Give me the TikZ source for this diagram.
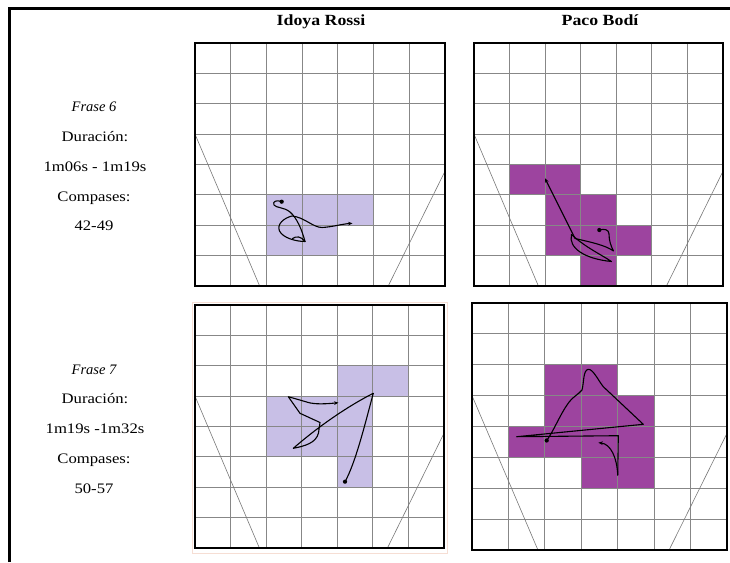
\documentclass[tikz,border=0pt]{standalone}
\usepackage{fontspec}
\setmainfont{Liberation Serif}[FakeStretch=1.15]
\newfontfamily\plainserif{Liberation Serif}
\usetikzlibrary{arrows.meta}
\definecolor{lav}{RGB}{200,191,230}
\definecolor{plum}{RGB}{157,68,159}
\definecolor{gridgray}{RGB}{135,135,135}
\definecolor{diaggray}{RGB}{120,120,120}
\definecolor{peach}{RGB}{246,222,212}
\tikzset{
  gridline/.style={draw=gridgray, line width=0.8pt},
  diagline/.style={draw=diaggray, line width=0.6pt},
  panelborder/.style={draw=black, line width=2.8pt},
  frameline/.style={draw=black, line width=2.5pt},
  trace/.style={draw=black, line width=1.1pt, line cap=round, line join=round},
  tip/.style={-{Stealth[length=4.5pt,width=3.6pt]}},
  dotnode/.style={circle, fill=black, inner sep=0pt, minimum size=4.2pt},
  infotext/.style={anchor=base, inner sep=0pt, font=\fontsize{14.5}{17}\selectfont},
  infoital/.style={anchor=base, inner sep=0pt, font=\fontsize{14.5}{17}\selectfont\plainserif\itshape},
  header/.style={anchor=base, inner sep=0pt, font=\fontsize{15.5}{18}\selectfont\bfseries}
}
\newcommand\panelgrid[5]{%
  \begin{scope}[shift={(#1,#2)}, xscale={(#3-#1)/7}, yscale={(#4-#2)/8}]
    #5
    \foreach \i in {1,...,6} \draw[gridline] (\i,0) -- (\i,8);
    \foreach \j in {1,...,7} \draw[gridline] (0,\j) -- (7,\j);
    \draw[diagline] (0,3) -- (1.81,8);
    \draw[diagline] (7,4.22) -- (5.41,8);
    \draw[panelborder] (0,0) rectangle (7,8);
  \end{scope}}
\begin{document}
\begin{tikzpicture}[x=1pt,y=-1pt]
\useasboundingbox[fill=white] (0,0) rectangle (730,562);
% outer frame
\draw[frameline] (9.5,562) -- (9.5,8.7) -- (730,8.7);
% headers
\node[header] (hA) at (321,25) {Idoya Rossi};
\node[header] (hB) at (600,25) {Paco Bodí};
% left texts, phrase 6
\node[infoital] (f6) at (94,111.5) {Frase 6};
\node[infotext] (d6) at (95,141.5) {Duración:};
\node[infotext] (t6) at (95,171.5) {1m06s - 1m19s};
\node[infotext] (c6) at (94,201.5) {Compases:};
\node[infotext] (n6) at (94,230.5) {42-49};
% phrase 7
\node[infoital] (f7) at (94,374) {Frase 7};
\node[infotext] (d7) at (95,403.5) {Duración:};
\node[infotext] (t7) at (95,433.5) {1m19s -1m32s};
\node[infotext] (c7) at (94,463.5) {Compases:};
\node[infotext] (n7) at (94,493) {50-57};
% peach outline around panel 3
\draw[peach, line width=0.7pt] (192.5,302.5) rectangle (447,553);
% panels
\panelgrid{195}{43}{445}{286}{%
  \fill[lav] (2,5) rectangle (5,6) (2,6) rectangle (4,7);}
\panelgrid{474}{43}{723}{286}{%
  \fill[plum] (1,4) rectangle (3,5) (2,5) rectangle (4,6) (2,6) rectangle (5,7) (3,7) rectangle (4,8);}
\panelgrid{195}{305}{444}{548}{%
  \fill[lav] (4,2) rectangle (6,3) (2,3) rectangle (5,5) (4,5) rectangle (5,6);}
\panelgrid{472}{303}{727}{550}{%
  \fill[plum] (2,2) rectangle (4,3) (2,3) rectangle (5,4) (1,4) rectangle (5,5) (3,5) rectangle (5,6);}
% trace panel 1
\node[dotnode] (p1) at (281.7,201.7) {};
\draw[trace] (p1.center) .. controls (277,199.5) and (272,201.5) .. (274,205) .. controls (276,208) and (284,207) .. (290,212) .. controls (297,218) and (302,230) .. (305,241.5);
\draw[trace,tip] (305,241.5) .. controls (296,241.5) and (283,238) .. (279.5,231) .. controls (276.5,224) and (284,218) .. (292,216) .. controls (304,217) and (313,227.5) .. (322,227.5) .. controls (332,227) and (342,224) .. (352.5,223.3);
\draw[trace] (292.5,238.5) .. controls (296,236) and (301,236) .. (305,241.5);
% trace panel 2
\node[dotnode] (p2) at (599.3,230) {};
\draw[trace,tip] (p2.center) .. controls (604,228.5) and (609,229.5) .. (609,234) .. controls (609,241) and (611,246) .. (613.5,251) .. controls (605,245) and (590,242) .. (575,238.5) -- (545,178.3);
\draw[trace] (571.5,234.5) .. controls (568,248) and (585,259) .. (611.5,261.5) .. controls (600,254) and (585,247) .. (571.5,234.5);
% trace panel 3
\node[dotnode] (p3) at (345,481.7) {};
\draw[trace,tip] (p3.center) .. controls (356,462) and (366,420) .. (373.3,393.3) .. controls (350,405) and (320,425) .. (293.3,448.3) .. controls (305,446) and (316,443) .. (318.5,433) -- (320,422.5) -- (300,413.3) -- (288.3,396.7) -- (305,401.5) .. controls (312,404) and (320,404.5) .. (338.5,402.7);
% trace panel 4
\node[dotnode] (p4) at (546.7,440.5) {};
\draw[trace] (p4.center) .. controls (553,432) and (560,415) .. (567,405) .. controls (572,397) and (579,394) .. (582,390) .. controls (584,383) and (583,370) .. (588.3,369.3) .. controls (593,369) and (598,380) .. (603.3,386.7) -- (643.3,424.3) -- (516.7,436.7) -- (618.3,435.7) -- (617.7,475);
\draw[trace,tip] (617.7,475) .. controls (617,458) and (611,444) .. (598.3,442.7);
\end{tikzpicture}
\end{document}
